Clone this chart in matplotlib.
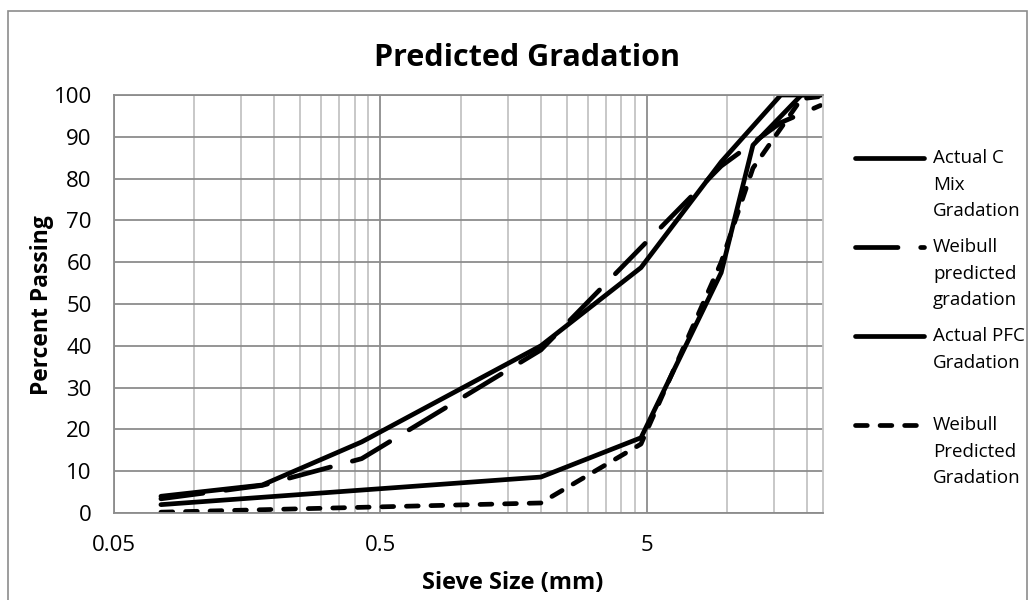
import matplotlib
matplotlib.use("Agg")
import matplotlib.pyplot as plt
from matplotlib.ticker import FixedLocator, NullFormatter
from matplotlib.lines import Line2D
from matplotlib.patches import Rectangle

plt.rcParams['font.family'] = ['Open Sans', 'DejaVu Sans']

# sieve sizes (mm) and percent passing
sieve_c = [0.075, 0.18, 0.425, 2.0, 4.75, 9.5, 15.9, 22.4]
c_mix_actual = [4.0, 6.7, 17.0, 40.0, 58.7, 84.0, 100.0, 100.0]
c_mix_weibull = [3.4, 6.6, 13.0, 39.0, 63.5, 83.0, 93.4, 97.5]

sieve_pfc = [0.075, 2.0, 4.75, 9.5, 12.5, 19.0, 25.0]
pfc_actual = [2.0, 8.6, 18.0, 57.5, 88.0, 100.0, 100.0]
pfc_weibull = [0.2, 2.4, 16.5, 60.0, 82.5, 99.1, 100.0]

legend_labels = ["Actual C\nMix\nGradation",
                 "Weibull\npredicted\ngradation",
                 "Actual PFC\nGradation",
                 "Weibull\nPredicted\nGradation"]

W, H = 1032, 600
fig = plt.figure(figsize=(W / 100, H / 100), dpi=100)
ax = fig.add_axes([114 / W, 1 - 513 / H, (823 - 114) / W, (513 - 95) / H])

lw = 3.4
styles = [dict(ls='-'),
          dict(ls=(0, (9, 4.8))),
          dict(ls='-'),
          dict(ls=(0, (2.5, 2.7)))]
series = [(sieve_c, c_mix_actual), (sieve_c, c_mix_weibull),
          (sieve_pfc, pfc_actual), (sieve_pfc, pfc_weibull)]
for (xs, ys), st in zip(series, styles):
    ax.plot(xs, ys, color='black', lw=lw, solid_capstyle='round',
            dash_capstyle='round', solid_joinstyle='round', **st)

ax.set_xscale('log')
ax.set_xlim(0.05, 22.9)
ax.set_ylim(0, 100)

ax.xaxis.set_major_locator(FixedLocator([0.05, 0.5, 5]))
ax.xaxis.set_minor_locator(FixedLocator(
    [0.05 * 10 ** k * n for k in range(3) for n in range(2, 10)]))
ax.xaxis.set_minor_formatter(NullFormatter())
ax.set_xticklabels(['0.05', '0.5', '5'])
ax.set_yticks(range(0, 101, 10))

ax.grid(True, which='major', color='#8c8c8c', lw=1.3)
ax.grid(True, which='minor', axis='x', color='#c4c4c4', lw=1.3)
ax.set_axisbelow(True)
for side in ['top', 'bottom', 'left']:
    ax.spines[side].set_color('#8c8c8c')
    ax.spines[side].set_linewidth(1.3)
ax.spines['right'].set_color('#c4c4c4')
ax.spines['right'].set_linewidth(1.3)

ax.tick_params(which='both', length=0)
ax.tick_params(axis='y', labelsize=16, pad=16)
ax.tick_params(axis='x', labelsize=16, pad=16)

fig.text(513 / W, 1 - 583 / H, 'Sieve Size (mm)', fontsize=17,
         fontweight='bold', ha='center', va='center')
fig.text(42 / W, 1 - 305 / H, 'Percent Passing', fontsize=16.5,
         fontweight='bold', ha='center', va='center', rotation=90)

fig.text(527 / W, 1 - 66 / H, 'Predicted Gradation', fontsize=22,
         fontweight='bold', ha='center', va='baseline')

# legend drawn Excel-style: marker line next to first text line
for i, (lab, st) in enumerate(zip(legend_labels, styles)):
    y = 1 - (158 + 89 * i) / H
    fig.add_artist(Line2D([855 / W, 924 / W], [y, y], color='black', lw=lw,
                          solid_capstyle='round', dash_capstyle='round', **st))
    fig.text(933 / W, y + 9 / H, lab, fontsize=13.5, ha='left', va='top',
             linespacing=1.62)

fig.add_artist(Rectangle((8 / W, -0.01), 1019 / W, 1 - 11 / H + 0.01,
                         transform=fig.transFigure, fill=False,
                         edgecolor='#8c8c8c', lw=1.2))

fig.savefig('out.png', dpi=100)
